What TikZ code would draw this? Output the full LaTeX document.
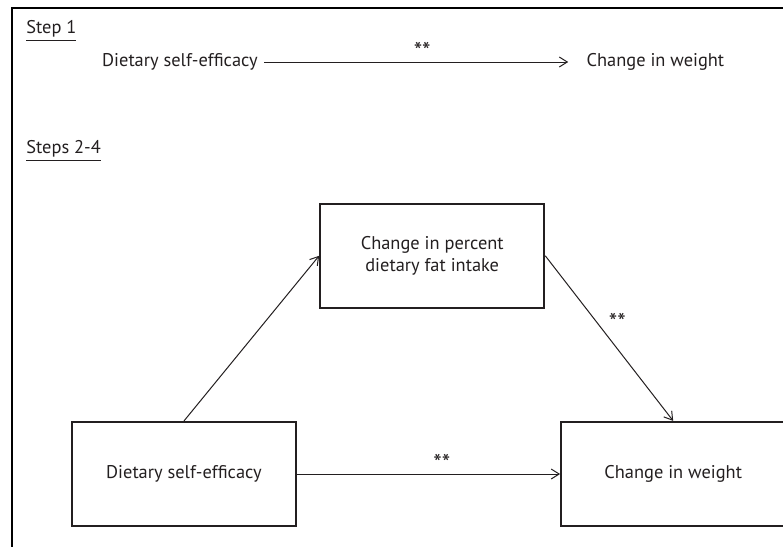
\documentclass[tikz,border=0pt]{standalone}
\usepackage{fontspec}
\setmainfont{PT Sans}
\usepackage{tikz}
\usetikzlibrary{arrows.meta, positioning}
\definecolor{inkgray}{HTML}{231F20}

\begin{document}
\begin{tikzpicture}[
    x=0.5pt, y=-0.5pt,
    font=\fontsize{9.2}{11}\selectfont, text=inkgray,
    box/.style={rectangle, draw=inkgray, line width=1.1pt, minimum width=112pt, minimum height=52pt, align=center},
    plain/.style={inner sep=3pt},
    heading/.style={anchor=west, inner sep=0pt},
    frame/.style={draw=black, line width=1pt},
    arrow/.style={-{Straight Barb[length=4pt, width=5pt]}, draw=inkgray, line width=0.5pt},
    sig/.style={font=\fontsize{12}{12}\selectfont, inner sep=0pt},
]
\useasboundingbox (0,0) rectangle (783,547);
\draw[frame] (12,547) -- (12,8) -- (783,8);

\node[heading] (step1) at (26,31) {\underline{Step 1}};
\node[heading] (step24) at (26,151) {\underline{Steps 2-4}};

\node[plain] (dse1) at (180,62) {Dietary self-efficacy};
\node[plain, right=158pt of dse1] (cw1) {Change in weight};

\node[box] (dse) at (184,474) {Dietary self-efficacy};
\node[box, right=131.5pt of dse] (cw) {Change in weight};
\node[box, above right=56pt and 11pt of dse] (fat) {Change in percent\\dietary fat intake};

\draw[arrow, shorten >=6pt] (dse1) -- node[sig, above=1pt] {**} (cw1);
\draw[arrow] (dse.north) -- (fat.west);
\draw[arrow] (fat.east) -- node[sig, pos=0.4, right=6pt] {**} (cw.north);
\draw[arrow] (dse) -- node[sig, pos=0.55, above=1pt] {**} (cw);

\end{tikzpicture}
\end{document}
